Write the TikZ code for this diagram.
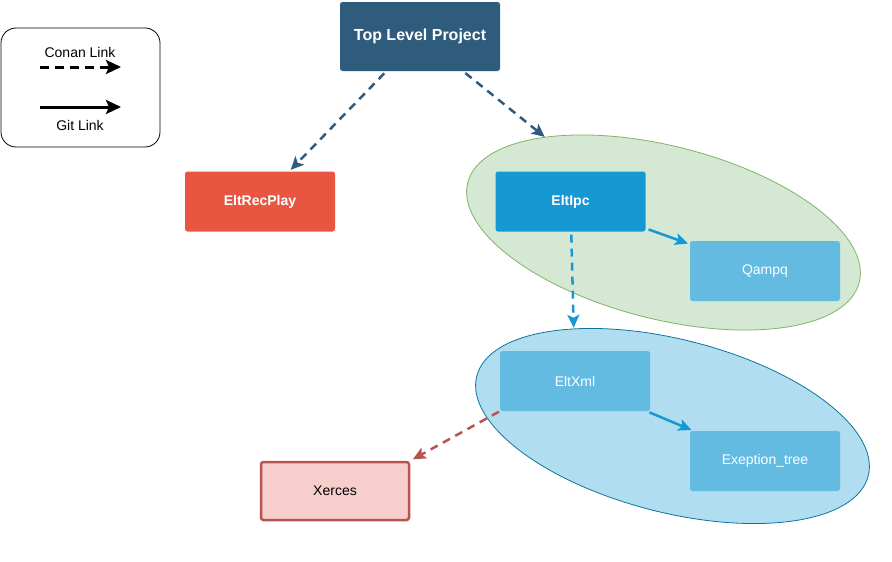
\documentclass[tikz,border=0pt]{standalone}
\usepackage{fontspec}
\setmainfont{Liberation Sans}
\usetikzlibrary{arrows.meta,shapes.geometric}

\definecolor{topblue}{HTML}{2F5B7C}
\definecolor{recred}{HTML}{E85642}
\definecolor{ipcblue}{HTML}{1699D3}
\definecolor{libblue}{HTML}{64BBE2}
\definecolor{grpgreen}{HTML}{D5E8D4}
\definecolor{grpgreenline}{HTML}{82B366}
\definecolor{grpblue}{HTML}{B1DDF0}
\definecolor{grpblueline}{HTML}{10739E}
\definecolor{xercesfill}{HTML}{F8CECC}
\definecolor{xercesline}{HTML}{B85450}

\begin{document}
\begin{tikzpicture}[x=1pt, y=-1pt,
    box/.style={rectangle, rounded corners=2.5pt, minimum width=150pt, minimum height=60pt,
        inner sep=0pt, text=white, font=\fontsize{14}{17}\selectfont},
    group/.style={ellipse, minimum width=404pt, minimum height=173pt, inner sep=0pt,
        rotate=-14.3},
    conan/.style={line width=2.5pt, dash pattern=on 8pt off 6pt,
        -{Stealth[length=13pt,width=12pt,inset=3pt]}},
    git/.style={line width=2.5pt, -{Stealth[length=13pt,width=12pt,inset=3pt]}}]
    \useasboundingbox (0,0) rectangle (892,562);

    % Legend
    \node[draw, rounded corners=15pt, line width=0.8pt, minimum width=159pt, minimum height=119pt]
        (legend) at (80.5,87.5) {};
    \node[font=\fontsize{14}{17}\selectfont] (conanlbl) at (80,52) {Conan Link};
    \node[font=\fontsize{14}{17}\selectfont] (gitlbl) at (80,125) {Git Link};
    \coordinate (c1) at (40,67);
    \coordinate (c2) at (121,67);
    \coordinate (g1) at (40,107);
    \coordinate (g2) at (121,107);
    \draw[line width=3pt, dash pattern=on 9pt off 6pt, -{Stealth[length=15pt,width=14pt,inset=3pt]}] (c1) -- (c2);
    \draw[line width=3pt, -{Stealth[length=15pt,width=14pt,inset=3pt]}] (g1) -- (g2);

    % Groups
    \node[group, fill=grpgreen, draw=grpgreenline, line width=0.8pt] (ipcgrp) at (663.5,232.5) {};
    \node[group, fill=grpblue, draw=grpblueline, line width=0.8pt] (xmlgrp) at (672.5,426) {};

    % Projects
    \node[box, fill=topblue, minimum width=160pt, minimum height=69pt, font=\fontsize{16}{19}\selectfont\bfseries]
        (top) at (420,36.5) {Top Level Project};
    \node[box, fill=recred, font=\fontsize{14}{17}\selectfont\bfseries] (recplay) at (260,201.5) {EltRecPlay};
    \node[box, fill=ipcblue, font=\fontsize{14}{17}\selectfont\bfseries] (ipc) at (570.5,201.5) {EltIpc};
    \node[box, fill=libblue] (qampq) at (765,271) {Qampq};
    \node[box, fill=libblue] (xml) at (575,381) {EltXml};
    \node[box, fill=libblue] (extree) at (765,461) {Exeption\_tree};
    \node[box, fill=xercesfill, draw=xercesline, line width=2.5pt, text=black, minimum width=148pt, minimum height=58pt]
        (xerces) at (335,491) {Xerces};

    % Links
    \draw[conan, topblue, shorten <=3pt, shorten >=2pt] (top) -- (recplay);
    \draw[conan, topblue, shorten <=3pt] (top) -- (ipcgrp);
    \draw[git, ipcblue, shorten <=3pt, shorten >=2pt] (ipc) -- (qampq);
    \draw[conan, ipcblue, shorten <=3pt, shorten >=23pt] (ipc) -- (xml);
    \draw[git, ipcblue, shorten <=3pt, shorten >=2pt] (xml) -- (extree);
    \draw[conan, xercesline, shorten <=1pt, shorten >=3pt] (xml.south west) -- (xerces.north east);
\end{tikzpicture}
\end{document}
